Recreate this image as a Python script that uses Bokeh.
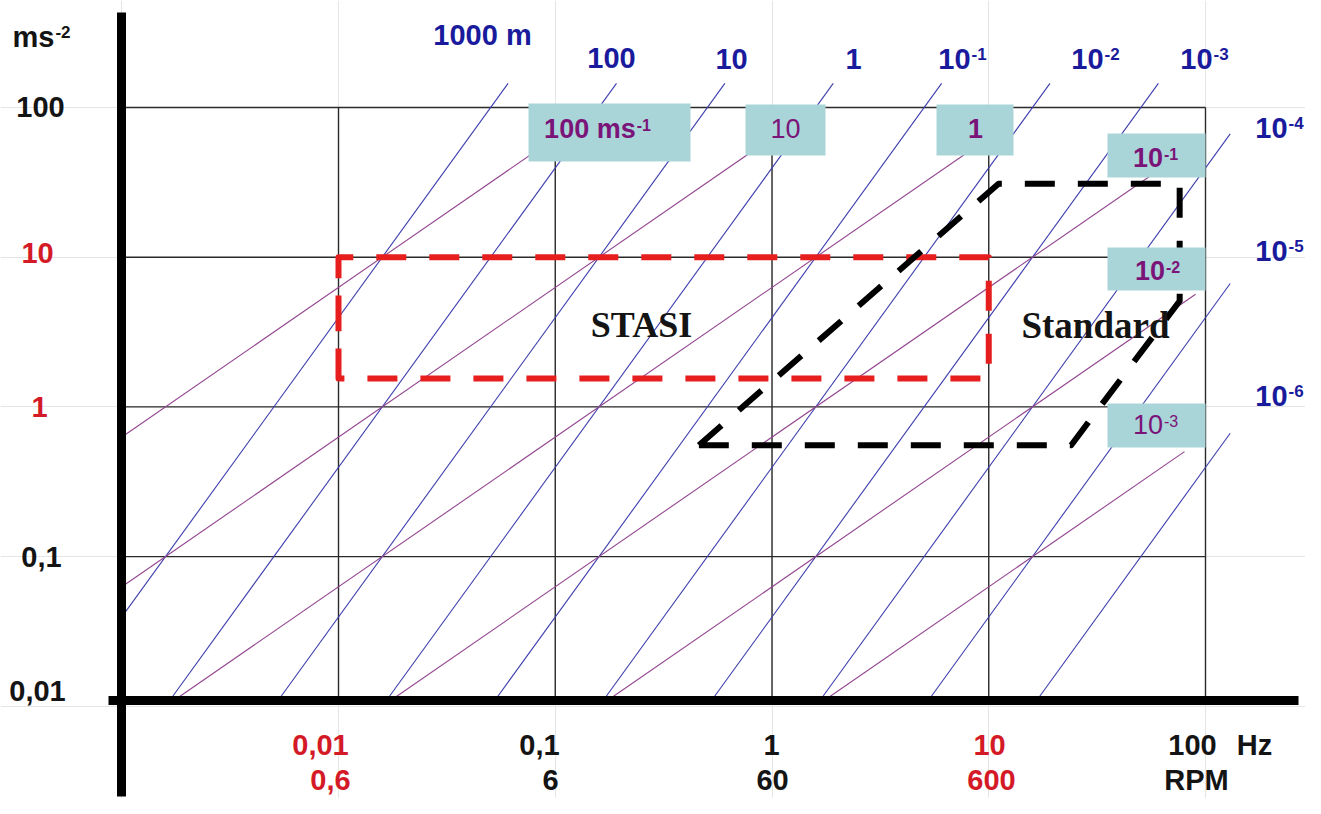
import math
from bokeh.plotting import figure
from bokeh.models import Range1d, Label
from bokeh.embed import file_html
from bokeh.resources import INLINE

# ---------------- data ----------------
freq_hz = [0.01, 0.1, 1, 10, 100]
freq_text = ["0,01", "0,1", "1", "10", "100"]
rpm_text = ["0,6", "6", "60", "600"]
acc_ms2 = [100, 10, 1, 0.1, 0.01]
acc_text = ["100", "10", "1", "0,1", "0,01"]

displacement_m = [1000, 100, 10, 1, 0.1, 0.01, 1e-3, 1e-4, 1e-5, 1e-6]
displacement_text = [("1000 m", ""), ("100", ""), ("10", ""), ("1", ""), ("10", "-1"),
                     ("10", "-2"), ("10", "-3"), ("10", "-4"), ("10", "-5"), ("10", "-6")]

velocity_ms = [100, 10, 1, 0.1, 0.01, 0.001]
velocity_text = [("100 ms", "-1"), ("10", ""), ("1", ""), ("10", "-1"), ("10", "-2"), ("10", "-3")]
velocity_end_hz = [0.0955, 0.955, 9.55, 60, 90, 80]

stasi_hz = [0.01, 10]
stasi_ms2 = [1.55, 10]
standard_hz = [0.46, 11.1, 76, 76, 24, 0.46]
standard_ms2 = [0.555, 31, 31, 5.1, 0.555, 0.555]

# ---------------- layout helpers (picture pixels -> data) ----------------
W, H = 1305, 798
X_HZ001, PX_DEC_X = 338.0, 216.75     # x of 0.01 Hz, px per decade
Y_ACC100, PX_DEC_Y = 107.0, 149.7     # y of 100 m/s2, px per decade


def hz_at(px):
    return 10 ** (-2 + (px - X_HZ001) / PX_DEC_X)


def acc_at(py):
    return 10 ** (2 - (py - Y_ACC100) / PX_DEC_Y)


p = figure(width=W, height=H, x_axis_type="log", y_axis_type="log",
           x_axis_location=None, y_axis_location=None,
           x_range=Range1d(hz_at(0), hz_at(W)),
           y_range=Range1d(acc_at(H), acc_at(0)),
           toolbar_location=None, output_backend="svg", min_border=0)
p.outline_line_color = None
p.background_fill_color = "white"
p.border_fill_color = "white"

BLACK = "#141414"
RED = "#d41a26"
BLUE = "#1a1a9c"
PURPLE = "#7a1478"
GRID = "#2a2a2a"
BOX = "#a9d5d8"

hz_left = hz_at(121)        # y-axis position
acc_axis = acc_at(700)      # x-axis position
acc_top = 145.0             # upper end of displacement lines
hz_right = 130.0            # right end of displacement lines

# ---------------- grid ----------------
gx, gy = [], []
for f in freq_hz:
    gx.append([f, f]); gy.append([acc_axis, 100])
for a in acc_ms2[:-1]:
    gx.append([hz_left, 100]); gy.append([a, a])
p.multi_line(gx, gy, line_color=GRID, line_width=1.4)

# ---------------- displacement lines (a = (2 pi f)^2 d) ----------------
dx, dy = [], []
for d in displacement_m:
    f_lo = max(hz_left, math.sqrt(acc_axis / d) / (2 * math.pi))
    f_hi = min(math.sqrt(acc_top / d) / (2 * math.pi), hz_right)
    dx.append([f_lo, f_hi])
    dy.append([(2 * math.pi * f) ** 2 * d for f in (f_lo, f_hi)])
p.multi_line(dx, dy, line_color="#3d3dae", line_width=1.1)

# ---------------- velocity lines (a = 2 pi f v) ----------------
vx, vy = [], []
for v, f_end in zip(velocity_ms, velocity_end_hz):
    f_lo = max(hz_left, acc_axis / (2 * math.pi * v))
    vx.append([f_lo, f_end])
    vy.append([2 * math.pi * f * v for f in (f_lo, f_end)])
p.multi_line(vx, vy, line_color="#93468f", line_width=1.1)

# ---------------- dashed regions ----------------
sx = [stasi_hz[0], stasi_hz[0], stasi_hz[1], stasi_hz[1], stasi_hz[0], stasi_hz[0]]
sy = [stasi_ms2[0], stasi_ms2[1], stasi_ms2[1], stasi_ms2[0], stasi_ms2[0], stasi_ms2[1]]
p.line(sx, sy, line_color="#e61e1e", line_width=6, line_dash="30 23", line_join="round")
p.line(standard_hz, standard_ms2, line_color="black", line_width=6, line_dash="30 23",
       line_join="round")

# ---------------- velocity label boxes ----------------
vel_boxes = [(528, 690, 103, 161), (745, 825, 104, 155), (936, 1013, 104, 155),
             (1107, 1205, 133, 177), (1107, 1205, 247, 290), (1107, 1205, 403, 447)]
vel_text_pos = [(597, 128), (785, 128), (975, 128), (1155, 157), (1157, 270), (1155, 424)]
p.quad(left=[hz_at(b[0]) for b in vel_boxes], right=[hz_at(b[1]) for b in vel_boxes],
       top=[acc_at(b[2]) for b in vel_boxes], bottom=[acc_at(b[3]) for b in vel_boxes],
       fill_color=BOX, line_color=None)

# ---------------- thick axes ----------------
p.segment(x0=[hz_at(108), hz_at(121)], y0=[acc_at(700), acc_at(12)],
          x1=[hz_at(1298), hz_at(121)], y1=[acc_at(700), acc_at(796)],
          line_color="black", line_width=9, line_cap="butt")

# ---------------- text helpers ----------------
CW = {'0': .556, '1': .556, '2': .556, '3': .556, '4': .556, '5': .556, '6': .556,
      '7': .556, '8': .556, '9': .556, ' ': .278, ',': .278, '-': .333, 'm': .889,
      's': .556, 'H': .722, 'z': .5, 'R': .722, 'P': .667, 'M': .833}


def tw(s, size):
    return sum(CW.get(c, .6) for c in s) * size


def text(cx, cy, base, sup="", size=29, color=BLACK, bold=True, font="Liberation Sans",
         align="center"):
    """cx, cy: centre of the cap height of the label (picture pixels)."""
    ssz = round(size * 0.6)
    wb = tw(base, size)
    ws = tw(sup, ssz) + 1 if sup else 0
    left = cx - (wb + ws) / 2 if align == "center" else cx
    style = "bold" if bold else "normal"
    p.add_layout(Label(x=hz_at(left), y=acc_at(cy), text=base, text_align="left",
                       text_baseline="alphabetic", text_font=font,
                       text_font_size=f"{size}px", text_font_style=style, text_color=color))
    if sup:
        sup_y = cy - 0.358 * size + 0.358 * ssz
        p.add_layout(Label(x=hz_at(left + wb + 1), y=acc_at(sup_y), text=sup,
                           text_align="left", text_baseline="alphabetic", text_font=font,
                           text_font_size=f"{ssz}px", text_font_style=style,
                           text_color=color))


# y tick labels
acc_label_pos = [(40, 106), (37, 252), (39, 406), (41, 556), (37, 690)]
acc_colors = [BLACK, RED, RED, BLACK, BLACK]
for t, (cx, cy), c in zip(acc_text, acc_label_pos, acc_colors):
    text(cx, cy, t, color=c)
# unit ms-2
text(12, 36, "ms", "-2", align="left")

# x tick labels (Hz row and RPM row)
freq_label_x = [320, 539, 771, 989, 1192]
freq_colors = [RED, BLACK, BLACK, RED, BLACK]
for t, cx, c in zip(freq_text, freq_label_x, freq_colors):
    text(cx, 744, t, color=c)
text(1254, 744, "Hz")
rpm_x = [330, 550, 772, 991]
rpm_colors = [RED, BLACK, BLACK, RED]
for t, cx, c in zip(rpm_text, rpm_x, rpm_colors):
    text(cx, 779, t, color=c)
text(1196, 779, "RPM")

# displacement labels
disp_label_pos = [(482, 34), (611, 57), (731, 58), (853, 58), (962, 58), (1095, 58),
                  (1204, 58), (1279, 127), (1279, 250), (1279, 395)]
for (b, s), (cx, cy) in zip(displacement_text, disp_label_pos):
    text(cx, cy, b, s, size=29, color=BLUE)

# velocity labels inside boxes
vel_bold = [True, False, True, True, True, False]
for (b, s), (cx, cy), bd in zip(velocity_text, vel_text_pos, vel_bold):
    text(cx, cy, b, s, size=27, color=PURPLE, bold=bd)

# region names
p.add_layout(Label(x=hz_at(641), y=acc_at(324), text="STASI", text_align="center",
                   text_baseline="alphabetic", text_font="Liberation Serif",
                   text_font_size="36px", text_font_style="bold", text_color=BLACK))
p.add_layout(Label(x=hz_at(1095), y=acc_at(325), text="Standard",
                   text_align="center", text_baseline="alphabetic",
                   text_font="Liberation Serif", text_font_size="37px",
                   text_font_style="bold", text_color=BLACK))

open("out.html", "w").write(file_html(p, INLINE))
